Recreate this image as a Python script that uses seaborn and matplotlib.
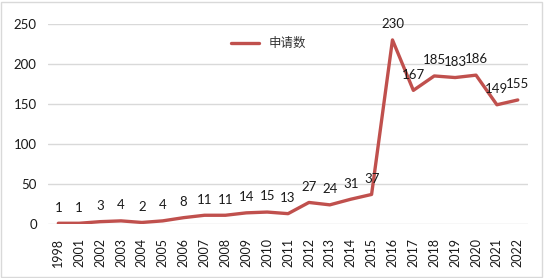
import pandas as pd
import matplotlib
matplotlib.use('Agg')
import matplotlib.pyplot as plt
import seaborn as sns

# Data
years = ['1998', '2001', '2002', '2003', '2004', '2005', '2006', '2007', '2008',
         '2009', '2010', '2011', '2012', '2013', '2014', '2015', '2016', '2017',
         '2018', '2019', '2020', '2021', '2022']
counts = [1, 1, 3, 4, 2, 4, 8, 11, 11, 14, 15, 13, 27, 24, 31, 37, 230, 167,
          185, 183, 186, 149, 155]
series_name = '申请数'

df = pd.DataFrame({'year': years, 'count': counts})

sns.set_theme(style="white")
plt.rcParams['font.family'] = ['Lato', 'Noto Sans CJK SC', 'DejaVu Sans']

fig = plt.figure(figsize=(5.44, 2.78), dpi=100)
ax = fig.add_axes([0.088, 0.194, 0.883, 0.72])

line_color = '#C0504D'
x_pos = list(range(len(years)))
sns.lineplot(x=x_pos, y=df['count'], ax=ax, color=line_color, linewidth=2.4,
             label=series_name)

# Data labels
for i, v in enumerate(counts):
    ax.annotate(str(v), (i, v), xytext=(0, 7), textcoords='offset points',
                ha='center', va='bottom', fontsize=9.5, color='#1a1a1a')

ax.set_xlim(-0.5, len(years) - 0.5)
ax.set_ylim(0, 250)
ax.set_yticks([0, 50, 100, 150, 200, 250])
ax.set_xticks(x_pos)
ax.set_xticklabels(years, rotation=90, fontsize=9, color='#1a1a1a')
ax.tick_params(axis='y', labelsize=9.5, labelcolor='#1a1a1a', length=0, pad=8)
ax.tick_params(axis='x', length=0, pad=10)
ax.grid(axis='y', color='#D9D9D9', linewidth=1)
ax.set_axisbelow(True)
for s in ax.spines.values():
    s.set_visible(False)
ax.set_xlabel('')
ax.set_ylabel('')

leg = ax.legend(loc='upper center', bbox_to_anchor=(0.46, 0.99), frameon=False,
                handlelength=2.2, prop={'family': ['Noto Sans CJK SC', 'DejaVu Sans'], 'size': 9})
for t in leg.get_texts():
    t.set_color('#333333')

# light border around the whole figure
fig.patches.append(plt.Rectangle((0.002, 0.004), 0.995, 0.99, transform=fig.transFigure,
                                 fill=False, edgecolor='#D9D9D9', linewidth=1))

plt.savefig('out.png', dpi=100)
